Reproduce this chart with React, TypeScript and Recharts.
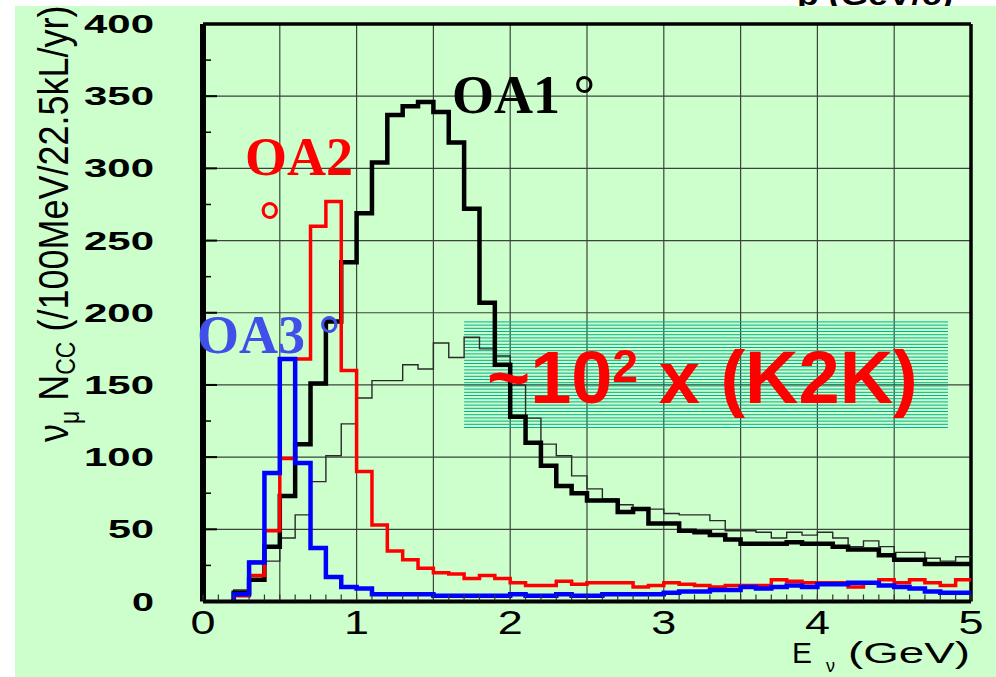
import React from 'react'
import {
    LineChart,
    Line,
    XAxis,
    YAxis,
    CartesianGrid,
    ReferenceArea,
    ReferenceLine,
} from 'recharts'

// lower edge of each 100 MeV bin that holds entries (GeV)
const binLow = [
    0.2, 0.3, 0.4, 0.5, 0.6, 0.7, 0.8, 0.9, 1.0, 1.1, 1.2, 1.3, 1.4, 1.5, 1.6, 1.7,
    1.8, 1.9, 2.0, 2.1, 2.2, 2.3, 2.4, 2.5, 2.6, 2.7, 2.8, 2.9, 3.0, 3.1, 3.2, 3.3,
    3.4, 3.5, 3.6, 3.7, 3.8, 3.9, 4.0, 4.1, 4.2, 4.3, 4.4, 4.5, 4.6, 4.7, 4.8, 4.9,
]
const lastEdge = 5.0

// events / 100 MeV / 22.5 kt / yr
const oa1 = [
    6, 15, 38, 73, 109, 151, 194, 235, 269, 304, 337, 343, 346, 339, 318, 272,
    207, 164, 128, 110, 94, 80, 75, 70, 70, 62, 64, 54, 54, 49, 48, 46,
    43, 40, 40, 40, 41, 40, 40, 38, 36, 36, 32, 29, 29, 26, 26, 26,
]
const oa2 = [
    4, 18, 49, 99, 168, 260, 277, 160, 90, 53, 35, 29, 23, 20, 19, 16,
    18, 16, 13, 11, 11, 14, 12, 13, 13, 13, 10, 11, 13, 12, 11, 10,
    11, 11, 11, 15, 14, 13, 13, 13, 10, 13, 15, 13, 15, 13, 11, 15,
]
const oa3 = [
    5, 27, 89, 168, 96, 37, 17, 10, 9, 5, 5, 5, 5, 4, 4, 4,
    4, 4, 5, 4, 4, 5, 4, 4, 5, 5, 5, 5, 6, 7, 7, 8,
    8, 10, 9, 10, 11, 10, 12, 12, 13, 13, 11, 10, 9, 7, 6, 6,
]
const k2k = [
    8, 28, 28, 44, 60, 83, 101, 123, 141, 153, 153, 164, 161, 179, 169, 183,
    175, 170, 150, 127, 109, 101, 87, 78, 71, 67, 64, 64, 61, 60, 60, 56,
    49, 49, 48, 44, 48, 46, 48, 44, 38, 42, 38, 34, 34, 30, 28, 31,
]

const xTicks = [
    0, 0.1, 0.2, 0.3, 0.4, 0.5, 0.6, 0.7, 0.8, 0.9, 1, 1.1, 1.2, 1.3, 1.4, 1.5, 1.6,
    1.7, 1.8, 1.9, 2, 2.1, 2.2, 2.3, 2.4, 2.5, 2.6, 2.7, 2.8, 2.9, 3, 3.1, 3.2, 3.3,
    3.4, 3.5, 3.6, 3.7, 3.8, 3.9, 4, 4.1, 4.2, 4.3, 4.4, 4.5, 4.6, 4.7, 4.8, 4.9, 5,
]
const xLabels = [0, 1, 2, 3, 4, 5]
const yTicks = [
    0, 25, 50, 75, 100, 125, 150, 175, 200, 225, 250, 275, 300, 325, 350, 375, 400,
]
const yLabels = [0, 50, 100, 150, 200, 250, 300, 350, 400]
const xGrid = [0.5, 1, 1.5, 2, 2.5, 3, 3.5, 4, 4.5]
const yGrid = [50, 100, 150, 200, 250, 300, 350]

// step rows: start at 0 on the first edge, one row per bin, close at 5 GeV
const rows = [{ e: binLow[0], oa1: 0, oa2: 0, oa3: 0, k2k: 0 }]
binLow.forEach((e, i) => {
    rows.push({ e: e, oa1: oa1[i], oa2: oa2[i], oa3: oa3[i], k2k: k2k[i] })
})
const n = binLow.length - 1
rows.push({ e: lastEdge, oa1: oa1[n], oa2: oa2[n], oa3: oa3[n], k2k: k2k[n] })

const SANS = '"Liberation Sans", Arial, sans-serif'
const SERIF = '"Liberation Serif", "Times New Roman", serif'

function renderXTick(props: any) {
    const { x, y, payload } = props
    const v = payload.value
    const isLabel = xLabels.some((l) => Math.abs(l - v) < 1e-6)
    return (
        <g>
            <line x1={x} x2={x} y1={y - 1} y2={y - 7} stroke="#333" strokeWidth={1.2} />
            {isLabel && (
                <text
                    x={x}
                    y={y + 32.5}
                    textAnchor="middle"
                    fontFamily={SANS}
                    fontSize={33}
                    textLength={25}
                    lengthAdjust="spacingAndGlyphs"
                    fill="#000"
                >
                    {Math.round(v)}
                </text>
            )}
        </g>
    )
}

function renderYTick(props: any) {
    const { x, y, payload } = props
    const v = payload.value
    const major = yLabels.indexOf(v) >= 0
    const label = String(v)
    return (
        <g>
            <line
                x1={x}
                x2={x + (major ? 14 : 8)}
                y1={y}
                y2={y}
                stroke="#000"
                strokeWidth={major ? 2 : 1.5}
            />
            {major && (
                <text
                    x={x - 49}
                    y={y + 9}
                    textAnchor="end"
                    fontFamily={SANS}
                    fontWeight="bold"
                    fontSize={25}
                    textLength={24 * label.length - 2}
                    lengthAdjust="spacingAndGlyphs"
                    fill="#000"
                >
                    {label}
                </text>
            )}
        </g>
    )
}

function renderHatch(props: any) {
    const { x, y, width, height } = props
    const lines = []
    for (let yy = y + 0.5; yy <= y + height; yy += 3.2) {
        lines.push(
            <line key={yy} x1={x} x2={x + width} y1={yy} y2={yy} stroke="#00b08e" strokeWidth={1} />
        )
    }
    return <g>{lines}</g>
}

function App() {
    return (
        <div style={{ position: 'absolute', left: 0, top: 0, width: 996, height: 677, overflow: 'hidden', background: '#fff' }}>
            <svg width={996} height={677} style={{ position: 'absolute', left: 0, top: 0 }}>
                <text
                    x={797}
                    y={5}
                    fontFamily={SANS}
                    fontWeight="bold"
                    fontSize={30}
                    textLength={156}
                    lengthAdjust="spacingAndGlyphs"
                    fill="#000"
                >
                    p (GeV/c)
                </text>
                <rect x={15} y={6} width={981} height={671} fill="#ccffcc" />
            </svg>
            <div style={{ position: 'absolute', left: 0, top: 0 }}>
                <LineChart
                    width={996}
                    height={677}
                    data={rows}
                    margin={{ top: 24, right: 25, bottom: 15.5, left: 103 }}
                >
                    <CartesianGrid
                        verticalValues={xGrid}
                        horizontalValues={yGrid}
                        stroke="#3a443a"
                        strokeWidth={1.2}
                    />
                    <ReferenceArea
                        x1={1.7}
                        x2={4.85}
                        y1={119}
                        y2={194}
                        shape={renderHatch}
                        ifOverflow="visible"
                    />
                    <XAxis
                        dataKey="e"
                        type="number"
                        domain={[0, 5]}
                        ticks={xTicks}
                        interval={0}
                        tickSize={0}
                        tickMargin={0}
                        tickLine={false}
                        tick={renderXTick}
                        axisLine={{ stroke: '#000', strokeWidth: 4 }}
                        height={60}
                        allowDataOverflow
                    />
                    <YAxis
                        type="number"
                        domain={[0, 400]}
                        ticks={yTicks}
                        interval={0}
                        tickSize={0}
                        tickMargin={0}
                        tickLine={false}
                        tick={renderYTick}
                        axisLine={{ stroke: '#000', strokeWidth: 6 }}
                        width={100}
                        allowDataOverflow
                    />
                    <ReferenceLine y={400} stroke="#000" strokeWidth={3.5} />
                    <ReferenceLine x={5} stroke="#000" strokeWidth={3.5} />
                    <Line
                        dataKey="k2k"
                        type="stepAfter"
                        stroke="#2a2a2a"
                        strokeWidth={1.4}
                        dot={false}
                        activeDot={false}
                        isAnimationActive={false}
                    />
                    <Line
                        dataKey="oa1"
                        type="stepAfter"
                        stroke="#000"
                        strokeWidth={4.5}
                        dot={false}
                        activeDot={false}
                        isAnimationActive={false}
                    />
                    <Line
                        dataKey="oa2"
                        type="stepAfter"
                        stroke="#ff0000"
                        strokeWidth={3.5}
                        dot={false}
                        activeDot={false}
                        isAnimationActive={false}
                    />
                    <Line
                        dataKey="oa3"
                        type="stepAfter"
                        stroke="#0000ff"
                        strokeWidth={4.5}
                        dot={false}
                        activeDot={false}
                        isAnimationActive={false}
                    />
                </LineChart>
            </div>
            <svg width={996} height={677} style={{ position: 'absolute', left: 0, top: 0, pointerEvents: 'none' }}>
                {/* y title */}
                <text
                    transform="translate(68,442) scale(1.2,1) rotate(-90)"
                    fontFamily={SANS}
                    fontSize={36}
                    fill="#000"
                >
                    ν<tspan fontSize={23} dy={9}>μ</tspan>
                    <tspan dy={-9}> N</tspan>
                    <tspan fontSize={23} dy={6}>CC</tspan>
                    <tspan dy={-6}> (/100MeV/22.5kL/yr)</tspan>
                </text>
                {/* x title */}
                <text x={792} y={663} fontFamily={SANS} fontSize={30} fill="#000">E</text>
                <text x={826} y={672} fontFamily={SANS} fontSize={18} fill="#000">ν</text>
                <text
                    x={848}
                    y={663}
                    fontFamily={SANS}
                    fontSize={30}
                    textLength={122}
                    lengthAdjust="spacingAndGlyphs"
                    fill="#000"
                >
                    (GeV)
                </text>
                {/* annotations */}
                <text x={452} y={113} fontFamily={SERIF} fontWeight="bold" fontSize={54} fill="#000">
                    OA1 °
                </text>
                <text x={245} y={175} fontFamily={SERIF} fontWeight="bold" fontSize={54} fill="#ff0000">
                    OA2
                </text>
                <text x={259} y={239} fontFamily={SERIF} fontWeight="bold" fontSize={54} fill="#ff0000">
                    °
                </text>
                <text x={197} y={353} fontFamily={SERIF} fontWeight="bold" fontSize={54} fill="#3f4fe8">
                    OA3 °
                </text>
                <text x={487} y={403} fontFamily={SANS} fontWeight="bold" fontSize={74} fill="#ff0000">
                    ~10<tspan fontSize={46} dy={-21}>2</tspan>
                    <tspan dy={21}> x (K2K)</tspan>
                </text>
            </svg>
        </div>
    )
}

export default App
